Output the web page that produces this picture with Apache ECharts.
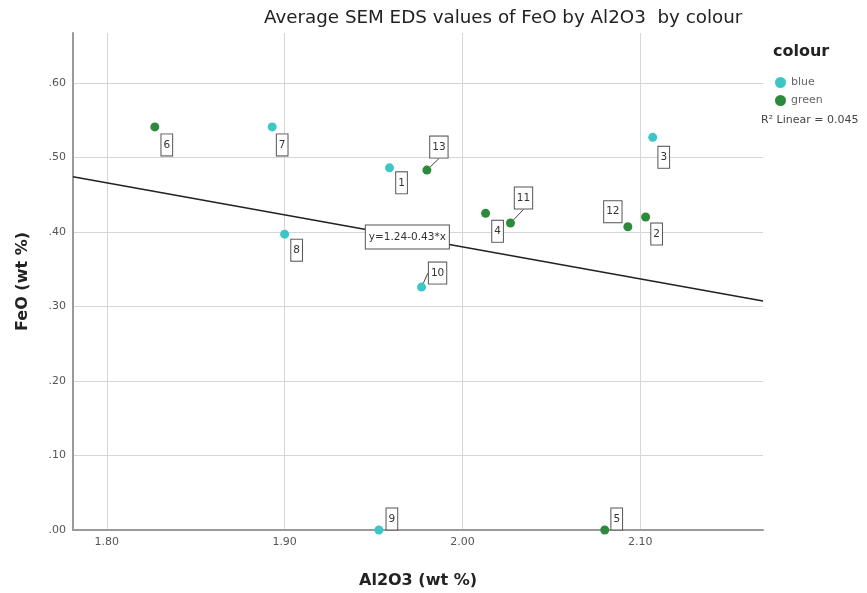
<!DOCTYPE html>
<html>
<head>
<meta charset="utf-8">
<script src="https://cdn.jsdelivr.net/npm/echarts@6/dist/echarts.min.js"></script>
<style>
  html, body { margin: 0; padding: 0; background: #fff; }
  #chart { width: 867px; height: 593px; }
</style>
</head>
<body>
<div id="chart"></div>
<script>
// Case numbers, their colour group and the two oxide averages (wt %)
const caseIds      = [1, 2, 3, 4, 5, 6, 7, 8, 9, 10, 11, 12, 13];
const colourGroups = ['blue', 'green', 'blue', 'green', 'green', 'green', 'blue',
                      'blue', 'blue', 'blue', 'green', 'green', 'green'];
const al2o3Values  = [1.959, 2.103, 2.107, 2.013, 2.080, 1.827, 1.893,
                      1.900, 1.953, 1.977, 2.027, 2.093, 1.980];
const feoValues    = [0.486, 0.420, 0.527, 0.425, 0.000, 0.541, 0.541,
                      0.397, 0.000, 0.326, 0.412, 0.407, 0.483];
const colourNames  = ['blue', 'green'];

// Linear fit of FeO on Al2O3
const fitIntercept = 1.24;
const fitSlope     = -0.43;
const fitRSquared  = 0.045;

// Axis extents
const xRange = [1.781, 2.169];
const yRange = [0, 0.667];

// Placement of each case-number box relative to its marker (px)
const labelOffsets = {
  1: [12, 15], 2: [11, 17], 3: [11, 20], 4: [12, 18], 5: [12, -11],
  6: [12, 18], 7: [10, 18], 8: [12, 16], 9: [13, -11], 10: [16, -14],
  11: [13, -25], 12: [-15, -15], 13: [12, -23]
};
// Cases whose box is joined to the marker by a short leader line
const leaderCases = [10, 11, 13];
// Where along the fit line its equation is written
const equationAt = 1.969;

const palette = { blue: '#3ec6c6', green: '#2d8a3c' };
const FONT = 'DejaVu Sans';

const fit = x => fitIntercept + fitSlope * x;

const caseLabel = {
  show: true,
  position: 'inside',
  formatter: p => String(p.value[2]),
  fontSize: 10.5,
  lineHeight: 12,
  color: '#333',
  backgroundColor: '#fff',
  borderColor: '#555',
  borderWidth: 1,
  padding: [5, 2, 4, 2]
};

function pointSeries(colour, withLeader) {
  const data = [];
  caseIds.forEach((id, i) => {
    if (colourGroups[i] !== colour) return;
    if ((leaderCases.indexOf(id) >= 0) !== withLeader) return;
    data.push({ value: [al2o3Values[i], feoValues[i], id] });
  });
  return {
    name: colour,
    type: 'scatter',
    data: data,
    symbol: 'circle',
    symbolSize: 9,
    itemStyle: { color: palette[colour], opacity: 1 },
    label: caseLabel,
    labelLine: { show: withLeader, lineStyle: { color: '#444', width: 1 } },
    labelLayout: p => {
      const o = labelOffsets[data[p.dataIndex].value[2]];
      return { dx: o[0], dy: o[1] };
    },
    clip: false,
    z: 4
  };
}

const series = [];
colourNames.forEach(c => {
  series.push(pointSeries(c, false));
  series.push(pointSeries(c, true));
});

// Fit line across the full horizontal range, with its equation in a box on it
const eqText = 'y=' + fitIntercept.toFixed(2) + (fitSlope < 0 ? '-' : '+') +
               Math.abs(fitSlope).toFixed(2) + '*x';
series.push({
  name: 'fit',
  type: 'line',
  data: [[xRange[0], fit(xRange[0])], [xRange[1], fit(xRange[1])]],
  symbol: 'none',
  lineStyle: { color: '#222', width: 1.5 },
  silent: true,
  z: 2,
  markPoint: {
    silent: true,
    symbol: 'rect',
    symbolSize: 0,
    z: 10,
    data: [{ coord: [equationAt, fit(equationAt)], value: eqText }],
    label: {
      show: true,
      position: 'inside',
      formatter: eqText,
      fontSize: 10.5,
      lineHeight: 12,
      color: '#333',
      backgroundColor: '#fff',
      borderColor: '#555',
      borderWidth: 1,
      padding: [6, 3, 5, 3]
    }
  }
});

const chart = echarts.init(document.getElementById('chart'), null, { renderer: 'canvas' });
chart.setOption({
  animation: false,
  backgroundColor: '#fff',
  textStyle: { fontFamily: FONT },
  title: {
    text: 'Average SEM EDS values of FeO by Al2O3  by colour',
    left: 264,
    top: 9,
    padding: 0,
    textStyle: { fontFamily: FONT, fontSize: 18.3, fontWeight: 'normal', color: '#222' }
  },
  legend: {
    data: colourNames,
    orient: 'vertical',
    left: 775,
    top: 77,
    padding: 0,
    itemWidth: 11,
    itemHeight: 11,
    itemGap: 7,
    icon: 'circle',
    textStyle: { fontFamily: FONT, fontSize: 11, color: '#666' },
    selectedMode: false
  },
  graphic: [
    {
      type: 'text', left: 773, top: 44, silent: true,
      style: { text: 'colour', font: 'bold 16px "DejaVu Sans"', fill: '#222' }
    },
    {
      type: 'text', left: 761, top: 115, silent: true,
      style: { text: 'R\u00b2 Linear = ' + fitRSquared.toFixed(3), font: '11px "DejaVu Sans"', fill: '#444' }
    }
  ],
  grid: { left: 73, right: 104, top: 33, bottom: 63, containLabel: false, outerBoundsMode: 'none' },
  xAxis: {
    type: 'value',
    min: xRange[0],
    max: xRange[1],
    minInterval: 0.1,
    maxInterval: 0.1,
    name: 'Al2O3 (wt %)',
    nameLocation: 'middle',
    nameGap: 43,
    nameTextStyle: { fontFamily: FONT, fontSize: 16, fontWeight: 'bold', color: '#222' },
    axisLine: { show: true, onZero: false, lineStyle: { color: '#9a9a9a', width: 2 } },
    axisTick: { show: false },
    axisLabel: {
      formatter: v => v.toFixed(2),
      showMinLabel: false,
      showMaxLabel: false,
      margin: 7,
      fontSize: 11,
      color: '#555',
      fontFamily: FONT
    },
    splitLine: { show: true, showMinLine: false, showMaxLine: false, lineStyle: { color: '#d6d6d6', width: 1 } }
  },
  yAxis: {
    type: 'value',
    min: yRange[0],
    max: yRange[1],
    interval: 0.1,
    name: 'FeO (wt %)',
    nameLocation: 'middle',
    nameGap: 42,
    nameTextStyle: { fontFamily: FONT, fontSize: 16, fontWeight: 'bold', color: '#222' },
    axisLine: { show: true, lineStyle: { color: '#9a9a9a', width: 2 } },
    axisTick: { show: false },
    axisLabel: {
      formatter: v => v.toFixed(2).replace(/^0/, ''),
      showMaxLabel: false,
      margin: 7,
      fontSize: 11,
      color: '#555',
      fontFamily: FONT
    },
    splitLine: { show: true, showMaxLine: false, lineStyle: { color: '#d6d6d6', width: 1 } }
  },
  series: series
});
</script>
</body>
</html>
